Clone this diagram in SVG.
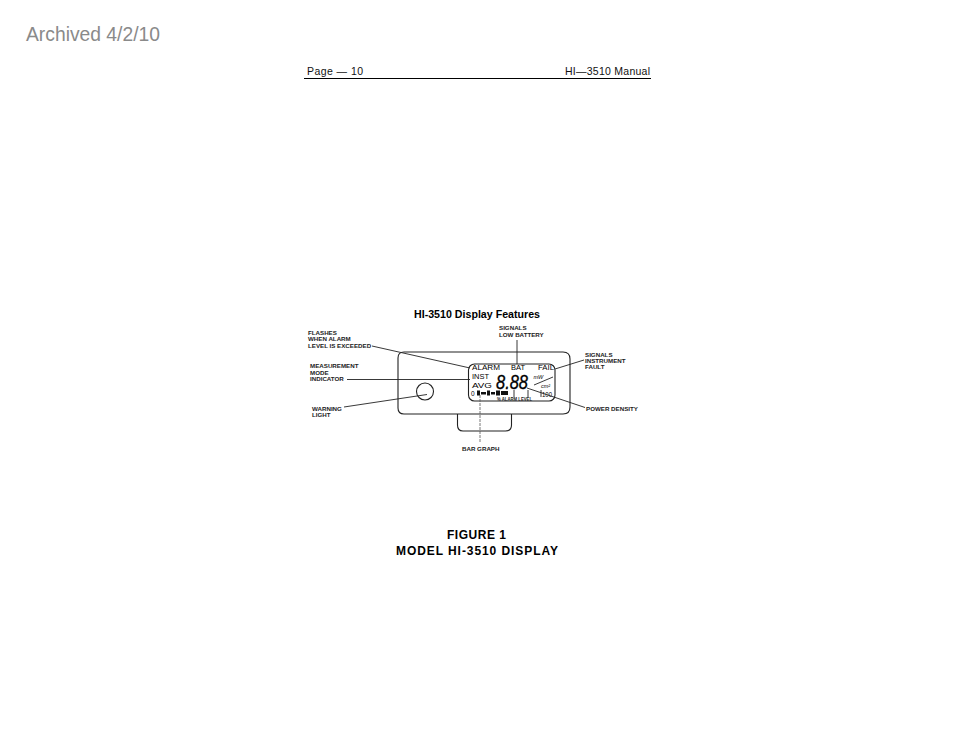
<svg xmlns="http://www.w3.org/2000/svg" width="954" height="738" viewBox="0 0 954 738">
<style>
text{font-family:"Liberation Sans",Arial,sans-serif;fill:#000}
.h{font-size:10.5px;fill:#111}
.b{font-size:10.5px;font-weight:bold}
.f{font-size:12px;font-weight:bold}
.s{font-size:6.2px;font-weight:bold;fill:#222}
.l{font-size:7.900px;fill:#000}
.ln{fill:none;stroke:#222;stroke-width:.9}
.o{fill:none;stroke:#222;stroke-width:1.1}
</style>
<rect width="954" height="738" fill="#fff"/>
<text x="26" y="41" font-size="19.300" style="fill:#8a8a8a">Archived 4/2/10</text>
<g id="header">
<text class="h" x="307" y="75" textLength="56" lengthAdjust="spacing">Page — 10</text>
<text class="h" x="565" y="75" textLength="85" lengthAdjust="spacing">HI—3510 Manual</text>
<line x1="304" y1="78.500" x2="651" y2="78.500" stroke="#000" stroke-width="1"/>
</g>
<text class="b" x="414" y="318" textLength="126" lengthAdjust="spacingAndGlyphs">HI-3510 Display Features</text>
<g id="device">
<path class="o" d="M404 352H563Q570 352 570 359V407Q570 414 563 414H404Q398 414 398 408V358Q398 352 404 352Z"/>
<path class="o" d="M457.500 414V425Q457.500 431 463 431H505.500Q511.500 431 511.500 425V414"/>
<circle class="o" cx="425" cy="391.500" r="8.500"/>
</g>
<g id="lcd">
<rect class="o" x="468.500" y="364" width="86.500" height="37" rx="6"/>
<text class="l" x="472" y="370" textLength="28" lengthAdjust="spacingAndGlyphs">ALARM</text>
<text class="l" x="511" y="370" textLength="14" lengthAdjust="spacingAndGlyphs">BAT</text>
<text class="l" x="538" y="370" textLength="16" lengthAdjust="spacingAndGlyphs">FAIL</text>
<text class="l" x="472" y="379" textLength="17" lengthAdjust="spacingAndGlyphs">INST</text>
<text class="l" x="472" y="388" textLength="20" lengthAdjust="spacingAndGlyphs">AVG</text>
<text x="496" y="389" font-size="20" font-style="italic" stroke="#000" stroke-width=".35" textLength="32" lengthAdjust="spacingAndGlyphs">8.88</text>
<text x="533.500" y="378.500" font-size="5.500" font-style="italic">mW</text>
<line class="ln" x1="534" y1="385" x2="553" y2="377" stroke-width=".8"/>
<text x="541" y="388" font-size="5.500" font-style="italic">cm²</text>
<text x="471" y="396" font-size="6.500">0</text>
<path d="M477 390.500h3v5h-3zM481 392h5v2.500h-5zM487 390.500h3v5h-3zM491 392h4v2.500h-4zM496 390.500h4v5h-4zM501 391h7v4h-7z" fill="#111"/>
<path class="ln" d="M514 390V397M528 390V397M541 390V397"/>
<text x="542" y="396.500" font-size="6.500" textLength="10" lengthAdjust="spacingAndGlyphs">100</text>
<text class="s" x="497" y="401" style="font-size:4.600px" textLength="35" lengthAdjust="spacingAndGlyphs">% ALARM LEVEL</text>
</g>
<g id="connectors">
<path class="ln" d="M372 346L470 368"/>
<path class="ln" d="M347 379.500H470"/>
<path class="ln" d="M344 407L427 394.500"/>
<path class="ln" d="M517 340V364"/>
<path class="ln" d="M584 360L555 369"/>
<path class="ln" d="M585 407.500L527 388"/>
<path d="M480 395V443" stroke="#555" stroke-width=".8" fill="none" stroke-dasharray="3 1"/>
</g>
<g id="labels">
<text class="s" x="308" y="334.500">FLASHES</text>
<text class="s" x="308" y="341">WHEN ALARM</text>
<text class="s" x="308" y="347.500">LEVEL IS EXCEEDED</text>
<text class="s" x="310" y="368">MEASUREMENT</text>
<text class="s" x="310" y="374.500">MODE</text>
<text class="s" x="310" y="381">INDICATOR</text>
<text class="s" x="312" y="410.500">WARNING</text>
<text class="s" x="312" y="416.500">LIGHT</text>
<text class="s" x="499" y="330">SIGNALS</text>
<text class="s" x="499" y="336.500">LOW BATTERY</text>
<text class="s" x="585" y="356.500">SIGNALS</text>
<text class="s" x="585" y="363">INSTRUMENT</text>
<text class="s" x="585" y="369">FAULT</text>
<text class="s" x="586" y="410.500">POWER DENSITY</text>
<text class="s" x="462" y="451">BAR GRAPH</text>
</g>
<g id="caption">
<text class="f" x="447" y="539" textLength="59" lengthAdjust="spacing">FIGURE 1</text>
<text class="f" x="396" y="555" textLength="162" lengthAdjust="spacing">MODEL HI-3510 DISPLAY</text>
</g>
</svg>
